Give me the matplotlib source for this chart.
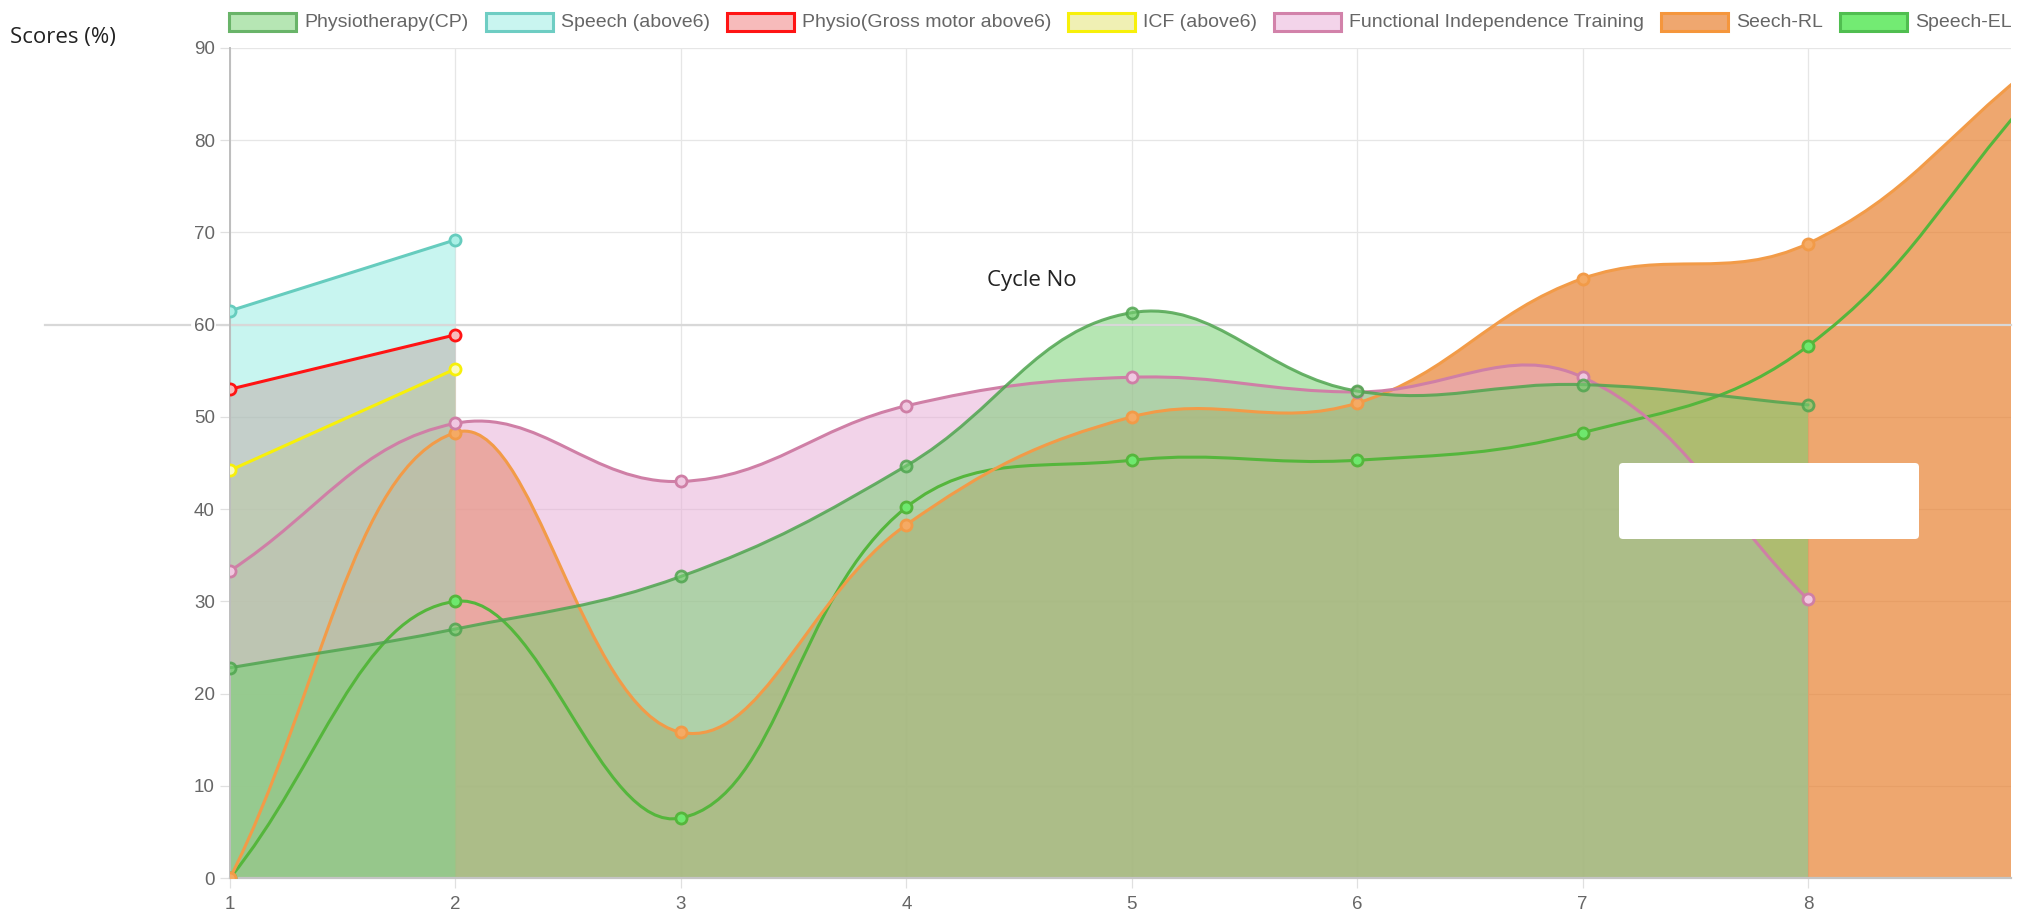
import numpy as np
import matplotlib
matplotlib.use('Agg')
import matplotlib.pyplot as plt
from matplotlib.path import Path
from matplotlib.patches import PathPatch, Rectangle, FancyBboxPatch
from matplotlib.lines import Line2D
from matplotlib import font_manager
import matplotlib.transforms as mtransforms

# --- Data ---
cycles = [1, 2, 3, 4, 5, 6, 7, 8, 9]
physio_cp = [22.8, 27.0, 32.7, 44.7, 61.3, 52.8, 53.5, 51.3]
speech_above6 = [61.5, 69.2]
physio_gross = [53.0, 58.9]
icf_above6 = [44.2, 55.2]
fit_scores = [33.3, 49.3, 43.0, 51.2, 54.3, 52.7, 54.3, 30.2]
seech_rl = [0.0, 48.3, 15.8, 38.3, 50.0, 51.5, 65.0, 68.8, 88.0]
speech_el = [0.0, 30.0, 6.5, 40.2, 45.3, 45.3, 48.3, 57.7, 85.0]
x_ticks = [1, 2, 3, 4, 5, 6, 7, 8]
y_ticks = [0, 10, 20, 30, 40, 50, 60, 70, 80, 90]

labels = ['Physiotherapy(CP)', 'Speech (above6)', 'Physio(Gross motor above6)',
          'ICF (above6)', 'Functional Independence Training', 'Seech-RL', 'Speech-EL']
series = [physio_cp, speech_above6, physio_gross, icf_above6, fit_scores, seech_rl, speech_el]

def rgba(r, g, b, a=1.0):
    return (r / 255, g / 255, b / 255, a)

# line colour, fill colour (None = no fill), legend box face, legend box edge
STYLES = [
    (rgba(80, 165, 80, 0.85), rgba(117, 208, 113, 0.53), rgba(182, 230, 180), rgba(105, 180, 105)),
    (rgba(102, 204, 190), rgba(135, 233, 222, 0.45), rgba(201, 245, 240), rgba(110, 205, 195)),
    (rgba(255, 20, 20), rgba(238, 120, 120, 0.5), rgba(247, 187, 187), rgba(255, 20, 20)),
    (rgba(247, 240, 10), rgba(225, 225, 105, 0.5), rgba(240, 240, 180), rgba(247, 240, 10)),
    (rgba(207, 127, 166), rgba(231, 169, 213, 0.5), rgba(243, 212, 234), rgba(210, 130, 170)),
    (rgba(242, 155, 72), rgba(232, 130, 50, 0.7), rgba(239, 167, 111), rgba(245, 150, 60)),
    (rgba(85, 182, 60), None, rgba(115, 235, 115), rgba(80, 190, 80)),
]
POINT_FACE = [rgba(117, 208, 113, 0.6), rgba(170, 240, 230), rgba(247, 187, 187), rgba(250, 250, 190),
              rgba(240, 200, 225), rgba(245, 170, 100), rgba(110, 232, 110)]

W, H, DPI = 2028, 921, 100
fig = plt.figure(figsize=(W / DPI, H / DPI), dpi=DPI)
fig.patch.set_facecolor('white')

# chart area in pixels: x 230..2011, y 48..878 (from top)
ax = fig.add_axes([230 / W, 1 - 878 / H, (2011 - 230) / W, (878 - 48) / H])
ax.set_xlim(1, 8.9)
ax.set_ylim(0, 90)

SX = (2011 - 230) / 7.9
SY = (878 - 48) / 90.0

# Chart.js style cubic interpolation (tension 0.4)
def bezier_verts(xs, ys, t=0.4):
    p = np.column_stack([np.asarray(xs, float) * SX, np.asarray(ys, float) * SY])
    n = len(p)
    cin = p.copy()
    cout = p.copy()
    for i in range(n):
        prv = p[max(i - 1, 0)]
        nxt = p[min(i + 1, n - 1)]
        d01 = np.hypot(*(p[i] - prv))
        d12 = np.hypot(*(nxt - p[i]))
        tot = d01 + d12
        s01 = d01 / tot if tot else 0
        s12 = d12 / tot if tot else 0
        cin[i] = p[i] - t * s01 * (nxt - prv)
        cout[i] = p[i] + t * s12 * (nxt - prv)
    for c in (cin, cout):
        c[:, 1] = np.clip(c[:, 1], 0, 90 * SY)
    verts = [p[0]]
    codes = [Path.MOVETO]
    for i in range(1, n):
        verts += [cout[i - 1], cin[i], p[i]]
        codes += [Path.CURVE4] * 3
    return np.array(verts) / [SX, SY], codes

n = len(series)
for i, (vals, (lc, fc, _, _), pf) in enumerate(zip(series, STYLES, POINT_FACE)):
    xs = cycles[:len(vals)]
    verts, codes = bezier_verts(xs, vals)
    rank = (n - i) * 0.01
    if fc is not None:
        fverts = np.vstack([verts, [[xs[-1], 0], [xs[0], 0], [xs[0], 0]]])
        fcodes = codes + [Path.LINETO, Path.LINETO, Path.CLOSEPOLY]
        ax.add_patch(PathPatch(Path(fverts, fcodes), facecolor=fc, edgecolor='none', zorder=1 + rank))
    ax.add_patch(PathPatch(Path(verts, codes), fill=False, edgecolor=lc, lw=2.2,
                           capstyle='round', joinstyle='round', zorder=3 + rank * 10))
    ax.plot(xs, vals, 'o', ms=8, mfc=pf, mec=lc, mew=2.0, zorder=3.05 + rank * 10)

# --- Axes styling ---
narrow = 'Liberation Sans Narrow'
try:
    font_manager.findfont(narrow, fallback_to_default=False)
    txt_family, tick_size, leg_size = narrow, 16, 16.8
except ValueError:
    txt_family, tick_size, leg_size = 'Liberation Sans', 13.5, 14

ax.set_xticks(x_ticks)
ax.set_yticks(y_ticks)
ax.grid(True, color='#e6e6e6', lw=0.9, zorder=0)
ax.set_axisbelow(True)
for s in ['top', 'right']:
    ax.spines[s].set_visible(False)
ax.spines['left'].set_color('#bdbdbd')
ax.spines['bottom'].set_color('#c4c4c4')
ax.spines['left'].set_linewidth(1.4)
ax.spines['bottom'].set_linewidth(1.6)
ax.tick_params(length=7, width=0.9, color='#e0e0e0', labelcolor='#666666', labelsize=tick_size)
ax.tick_params(axis='x', pad=6)
ax.tick_params(axis='y', pad=4)
for lbl in ax.get_xticklabels() + ax.get_yticklabels():
    lbl.set_family(txt_family)

# stray divider line at the 60 level (broken around the tick label) and empty tooltip box
px = fig.dpi_scale_trans
blend = mtransforms.blended_transform_factory(fig.transFigure, ax.transData)
for x0, x1 in [(45, 190), (217, 2011)]:
    ax.add_line(Line2D([x0 / W, x1 / W], [60, 60], transform=blend, color='#d8d8d8', lw=1.6,
                       clip_on=False, zorder=2.5))
ax.add_patch(FancyBboxPatch((1619 / DPI, (H - 539) / DPI), 3.0, 0.76, boxstyle='round,pad=0,rounding_size=0.04',
                            transform=px, facecolor='white', edgecolor='none', zorder=10, clip_on=False))

# titles
fig.text(10 / DPI, (H - 37) / DPI, 'Scores (%)', transform=px, ha='left', va='center',
         family='Open Sans', fontsize=16, color='#222222')
fig.text(1032 / DPI, (H - 280) / DPI, 'Cycle No', transform=px, ha='center', va='center',
         family='Open Sans', fontsize=16, color='#222222')

# --- Legend across the top, centred on the chart area ---
renderer = fig.canvas.get_renderer()
BOX_W, BOX_H, GAP, SEP = 67, 18, 8, 17
widths = []
for lab in labels:
    t = fig.text(0, 0, lab, family=txt_family, fontsize=leg_size)
    widths.append(t.get_window_extent(renderer).width)
    t.remove()
total = sum(BOX_W + GAP + w for w in widths) + SEP * (len(labels) - 1)
x = (230 + 2011) / 2 - total / 2
yc = 22
for lab, w, (_, _, face, edge) in zip(labels, widths, STYLES):
    fig.add_artist(Rectangle((x / DPI, (H - yc - BOX_H / 2) / DPI), BOX_W / DPI, BOX_H / DPI,
                             transform=px, facecolor=face, edgecolor=edge, lw=2.2))
    fig.text((x + BOX_W + GAP) / DPI, (H - yc) / DPI, lab, transform=px, ha='left', va='center',
             family=txt_family, fontsize=leg_size, color='#666666')
    x += BOX_W + GAP + w + SEP

fig.savefig('out.png', dpi=DPI, facecolor='white')
plt.close(fig)
